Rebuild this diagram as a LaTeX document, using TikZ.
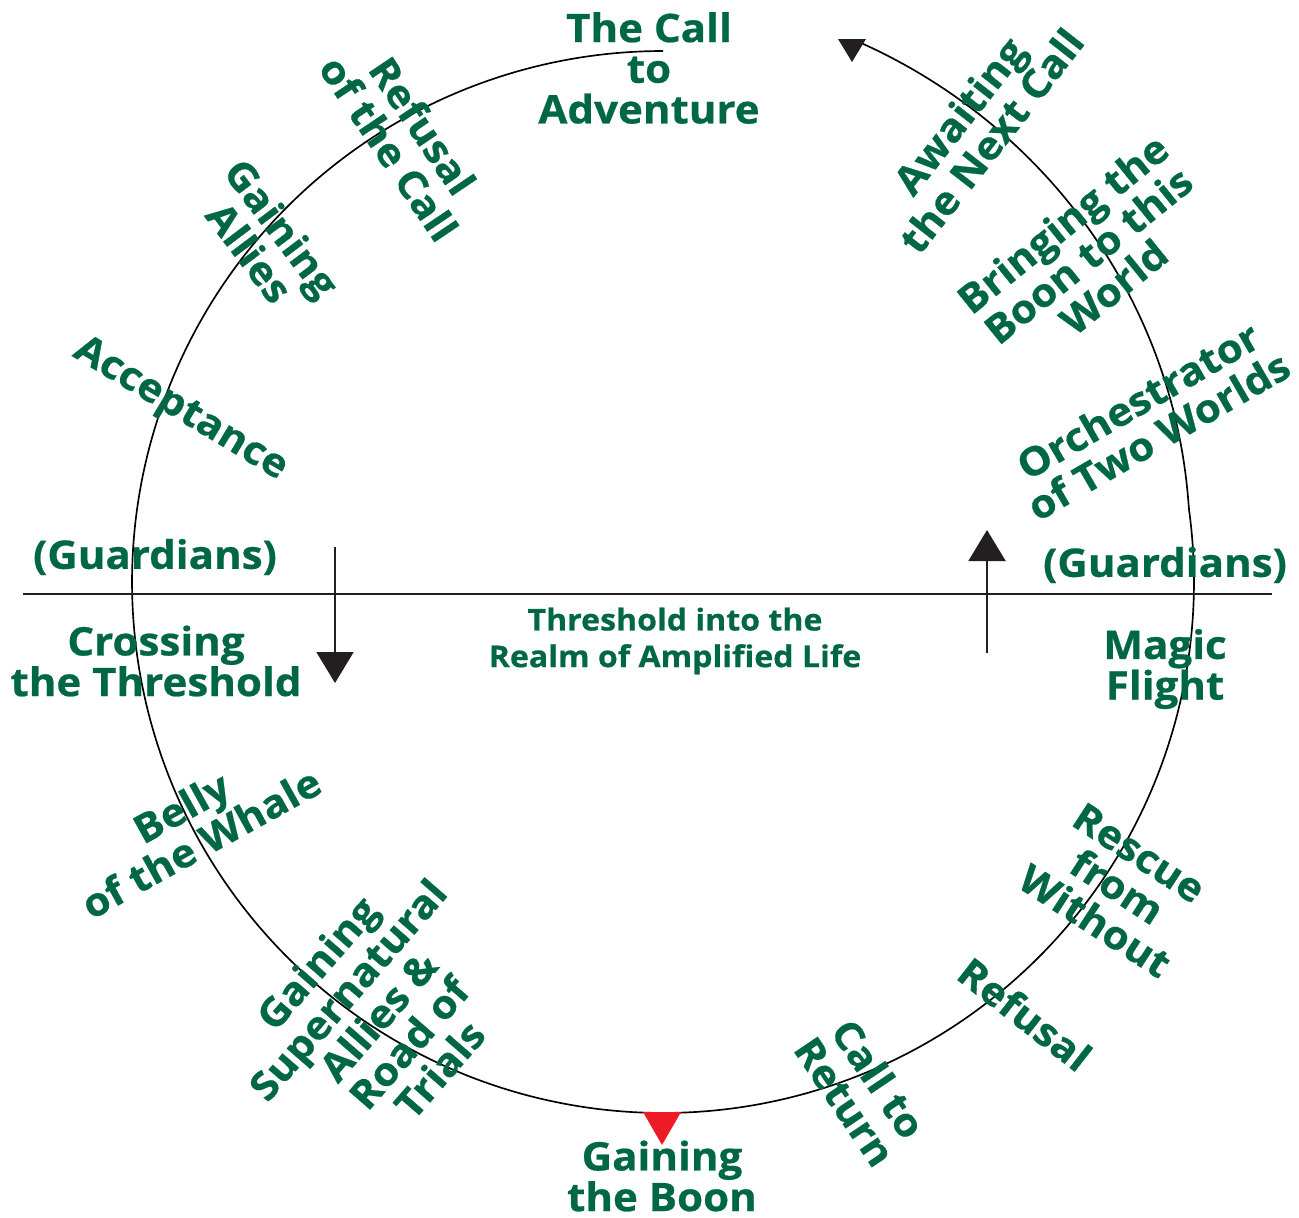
\documentclass[tikz,border=0pt]{standalone}
\usepackage{fontspec}
\setmainfont{Open Sans}[BoldFeatures={FakeStretch=1.07,FakeBold=0.6}]
\usetikzlibrary{arrows.meta}
\definecolor{hgreen}{RGB}{0,103,68}
\definecolor{ink}{HTML}{231F20}
\definecolor{tipred}{HTML}{ED1C24}
\begin{document}
\begin{tikzpicture}[x=0.75pt,y=-0.75pt,
  lbl/.style={text=hgreen, font=\fontsize{29.5}{30.5}\selectfont\bfseries, align=center, inner sep=0pt},
  smalllbl/.style={text=hgreen, font=\fontsize{22.5}{27.5}\selectfont\bfseries, align=center, inner sep=0pt},
  circ/.style={draw=black, line width=1.25pt},
  rule/.style={draw=ink, line width=1.5pt},
  vtip/.style={-{Triangle[length=23.25pt,width=27.75pt]}, draw=ink, fill=ink, line width=1.5pt}]
\useasboundingbox (0,0) rectangle (1299,1217);
% journey circle, spiralling slightly outward at its end
\draw[circ] plot[domain=90:430, samples=340] ({663+(531+0.7*max(0,\x-368))*cos(\x)}, {582-(531+0.7*max(0,\x-368))*sin(\x)});
\fill[ink] (838,39) -- (866,39) -- (852,62) -- cycle;
% threshold line
\coordinate (hl) at (23,594);
\coordinate (hr) at (1272,594);
\draw[rule] (hl) -- (hr);
\coordinate (dA) at (335,547);
\coordinate (dB) at (335,683);
\draw[vtip] (dA) -- (dB);
\coordinate (uA) at (987,653);
\coordinate (uB) at (987,530);
\draw[vtip] (uA) -- (uB);
\fill[tipred] (643,1112) -- (681,1112) -- (662,1145) -- cycle;
% labels
\node[lbl] (call) at (649,68) {The Call\\to\\Adventure};
\node[lbl, rotate=-56] (refcall) at (406,137) {Refusal\\of the Call};
\node[lbl, rotate=-53] (allies) at (266,240) {Gaining\\Allies};
\node[lbl, rotate=-31] (accept) at (180,410) {Acceptance};
\node[lbl] (guardL) at (155,557) {(Guardians)};
\node[lbl] (cross) at (156,661) {Crossing\\the Threshold};
\node[lbl, rotate=29] (belly) at (191,825) {Belly\\of the Whale};
\node[lbl, rotate=49] (super) at (378,1016) {Gaining\\Supernatural\\Allies \&\\Road of\\Trials};
\node[lbl] (boon) at (662,1176) {Gaining\\the Boon};
\node[lbl, rotate=-56] (callret) at (862,1090) {Call to\\Return};
\node[lbl, rotate=-38] (refusal) at (1025,1014) {Refusal};
\node[lbl, rotate=-33] (rescue) at (1117,887) {Rescue\\from\\Without};
\node[lbl] (magic) at (1165,669) {Magic\\Flight};
\node[lbl] (guardR) at (1165,565) {(Guardians)};
\node[lbl, rotate=30] (orch) at (1148,418) {Orchestrator\\of Two Worlds};
\node[lbl, rotate=39] (boonw) at (1088,255) {Bringing the\\Boon to this\\World};
\node[lbl, rotate=52] (await) at (975,128) {Awaiting\\the Next Call};
\node[smalllbl] (thr) at (675,641) {Threshold into the\\Realm of Amplified Life};
\end{tikzpicture}
\end{document}
